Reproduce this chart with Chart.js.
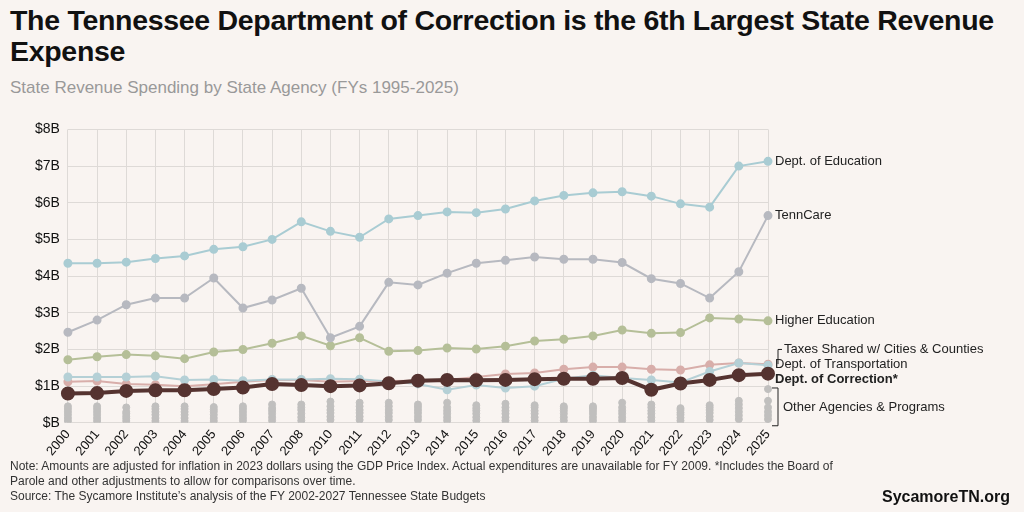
<!DOCTYPE html>
<html>
<head>
<meta charset="utf-8">
<script src="https://cdn.jsdelivr.net/npm/chart.js@4"></script>
<style>
  body { margin: 0; background: #f9f4f1; font-family: "Liberation Sans", Arial, sans-serif; }
  #wrap { position: relative; width: 1024px; height: 512px; }
  h1 { position: absolute; left: 10px; top: 5px; margin: 0; font-size: 28.5px; line-height: 31px; color: #111; width: 1010px; letter-spacing: -0.3px; }
  .sub { position: absolute; left: 10px; top: 78px; font-size: 17px; color: #999; }
  .note { position: absolute; left: 10px; top: 459px; font-size: 12px; line-height: 15px; color: #333; width: 830px; }
  .brand { position: absolute; right: 14px; top: 488px; font-size: 16px; font-weight: bold; color: #111; }
  #c { position: absolute; left: 0; top: 113px; }
</style>
</head>
<body>
<div id="wrap">
  <h1>The Tennessee Department of Correction is the 6th Largest State Revenue Expense</h1>
  <div class="sub">State Revenue Spending by State Agency (FYs 1995-2025)</div>
  <canvas id="c" width="1024" height="350"></canvas>
  <div class="note">Note: Amounts are adjusted for inflation in 2023 dollars using the GDP Price Index. Actual expenditures are unavailable for FY 2009. *Includes the Board of Parole and other adjustments to allow for comparisons over time.<br>Source: The Sycamore Institute’s analysis of the FY 2002-2027 Tennessee State Budgets</div>
  <div class="brand">SycamoreTN.org</div>
</div>
<script>
const years = ['2000','2001','2002','2003','2004','2005','2006','2007','2008','2010','2011','2012','2013','2014','2015','2016','2017','2018','2019','2020','2021','2022','2023','2024','2025'];
const yTicks = ['$B','$1B','$2B','$3B','$4B','$5B','$6B','$7B','$8B'];

const education = [4.35,4.35,4.38,4.48,4.55,4.73,4.8,5.0,5.48,5.22,5.06,5.56,5.65,5.75,5.73,5.83,6.05,6.2,6.27,6.3,6.18,5.97,5.88,7.0,7.13];
const tenncare = [2.47,2.8,3.22,3.4,3.4,3.95,3.13,3.35,3.67,2.32,2.63,3.83,3.76,4.08,4.35,4.43,4.52,4.46,4.46,4.37,3.93,3.8,3.4,4.12,5.65];
const higherEd = [1.72,1.8,1.86,1.83,1.75,1.93,2.0,2.17,2.37,2.1,2.32,1.95,1.97,2.04,2.01,2.09,2.23,2.28,2.37,2.53,2.44,2.46,2.86,2.83,2.78];
const taxesShared = [1.12,1.14,1.06,1.04,1.0,1.05,1.12,1.17,1.17,1.12,1.14,1.14,1.15,1.17,1.25,1.33,1.36,1.46,1.52,1.52,1.46,1.44,1.58,1.63,1.6];
const transportation = [1.25,1.25,1.25,1.27,1.17,1.18,1.15,1.18,1.18,1.2,1.19,1.13,1.06,0.9,1.03,0.95,1.0,1.2,1.3,1.22,1.17,1.1,1.4,1.63,1.57];
const correction = [0.8,0.81,0.87,0.89,0.89,0.92,0.96,1.06,1.03,1.0,1.02,1.08,1.15,1.17,1.16,1.17,1.19,1.2,1.2,1.22,0.9,1.07,1.17,1.3,1.34];

// other agencies, shown as dots only
const other1 = [0.45,0.45,0.42,0.45,0.45,0.43,0.45,0.5,0.5,0.58,0.55,0.55,0.5,0.55,0.48,0.52,0.48,0.45,0.45,0.55,0.5,0.4,0.48,0.6,0.92];
const other2 = [0.38,0.38,0.3,0.38,0.38,0.36,0.38,0.4,0.42,0.45,0.45,0.45,0.43,0.42,0.4,0.42,0.42,0.4,0.4,0.42,0.42,0.35,0.42,0.5,0.6];
const other3 = [0.3,0.3,0.25,0.3,0.3,0.3,0.3,0.33,0.35,0.35,0.35,0.35,0.35,0.33,0.33,0.33,0.33,0.33,0.33,0.33,0.33,0.28,0.35,0.4,0.42];
const other4 = [0.22,0.22,0.18,0.22,0.22,0.22,0.22,0.25,0.25,0.27,0.27,0.27,0.27,0.25,0.25,0.25,0.25,0.25,0.25,0.25,0.25,0.22,0.27,0.3,0.3];
const other5 = [0.13,0.13,0.12,0.13,0.13,0.13,0.14,0.15,0.15,0.17,0.17,0.17,0.17,0.15,0.15,0.15,0.15,0.15,0.15,0.15,0.15,0.14,0.17,0.2,0.2];
const other6 = [0.05,0.05,0.05,0.05,0.05,0.05,0.06,0.06,0.06,0.08,0.08,0.08,0.08,0.06,0.06,0.06,0.06,0.06,0.06,0.06,0.06,0.06,0.08,0.1,0.1];

function line(label, data, color, width, radius, order) {
    return { label, data, borderColor: color, backgroundColor: color, borderWidth: width, pointRadius: radius, pointHoverRadius: radius, order };
}
function dots(data) {
    return { label: 'other', data, showLine: false, backgroundColor: '#c0bfbe', borderColor: '#c0bfbe', pointRadius: 3.5, order: 10 };
}

const labelPlugin = {
    id: 'labels',
    afterDatasetsDraw(chart) {
        const ctx = chart.ctx;
        const x = chart.scales.x.getPixelForValue(years.length - 1);
        const y = v => chart.scales.y.getPixelForValue(v);
        ctx.save();
        ctx.fillStyle = '#222';
        ctx.textBaseline = 'middle';
        ctx.font = '13px "Liberation Sans", Arial';
        ctx.fillText('Dept. of Education', x + 7, y(7.13));
        ctx.fillText('TennCare', x + 7, y(5.65));
        ctx.fillText('Higher Education', x + 7, y(2.78));
        ctx.fillText('Taxes Shared w/ Cities & Counties', x + 16, y(2.0));
        ctx.fillText('Dept. of Transportation', x + 7, y(1.6));
        ctx.fillText('Other Agencies & Programs', x + 15, y(0.43));
        ctx.font = 'bold 13px "Liberation Sans", Arial';
        ctx.fillText('Dept. of Correction*', x + 7, y(1.17));
        ctx.strokeStyle = '#222';
        ctx.lineWidth = 1;
        ctx.beginPath();
        ctx.moveTo(x + 14, y(2.0)); ctx.lineTo(x + 10, y(2.0)); ctx.lineTo(x + 10, y(1.6));
        ctx.moveTo(x + 4, y(0.95)); ctx.lineTo(x + 10, y(0.95)); ctx.lineTo(x + 10, y(-0.08)); ctx.lineTo(x + 4, y(-0.08));
        ctx.stroke();
        ctx.restore();
    }
};

new Chart(document.getElementById('c'), {
    type: 'line',
    data: {
        labels: years,
        datasets: [
            dots(other1), dots(other2), dots(other3), dots(other4), dots(other5), dots(other6),
            line('Dept. of Education', education, '#a9ccd3', 2, 3.5, 5),
            line('TennCare', tenncare, '#b7b9c0', 2, 3.5, 5),
            line('Higher Education', higherEd, '#b5bf98', 2, 3.5, 5),
            line('Taxes Shared', taxesShared, '#d8aeaa', 2, 3.5, 4),
            line('Dept. of Transportation', transportation, '#b5d0d6', 2, 3.5, 3),
            line('Dept. of Correction*', correction, '#553330', 4, 5, 1)
        ]
    },
    options: {
        responsive: false,
        animation: false,
        layout: { padding: { left: 27, right: 256, top: 10, bottom: 0 } },
        plugins: { legend: { display: false }, tooltip: { enabled: false } },
        scales: {
            x: {
                offset: false,
                grid: { color: '#dedad7', drawTicks: false },
                border: { display: false },
                ticks: { color: '#111', font: { size: 13, family: '"Liberation Sans", Arial' }, maxRotation: 50, minRotation: 50, padding: 4 }
            },
            y: {
                min: 0, max: 8,
                grid: { color: '#dedad7', drawTicks: false },
                border: { display: false },
                ticks: { stepSize: 1, color: '#111', padding: 8, font: { size: 14, family: '"Liberation Sans", Arial' }, callback: v => yTicks[v] }
            }
        }
    },
    plugins: [labelPlugin]
});
</script>
</body>
</html>
